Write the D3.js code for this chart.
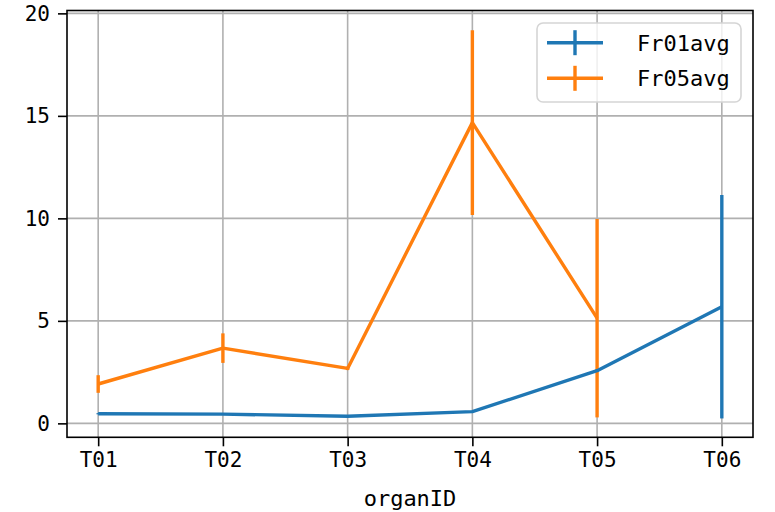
<!DOCTYPE html>
<html>
<head>
<meta charset="utf-8">
<script src="https://cdn.jsdelivr.net/npm/d3@7"></script>
<style>
  html, body { margin: 0; padding: 0; background: #fff; }
  svg { display: block; }
  text { font-family: "DejaVu Sans Mono", "Liberation Mono", monospace; fill: #000; }
</style>
</head>
<body>
<svg id="chart" width="775" height="512"></svg>
<script>
const categories = ["T01", "T02", "T03", "T04", "T05", "T06"];
const fr01avg = [0.47, 0.45, 0.35, 0.57, 2.57, 5.69];
const fr01err = [0.03, 0.03, 0.03, 0.04, 0.05, 5.45];
const fr05avg = [1.92, 3.67, 2.68, 14.67, 5.13, null];
const fr05err = [0.43, 0.72, 0.08, 4.51, 4.84, null];
const yTicks = [0, 5, 10, 15, 20];
const seriesNames = ["Fr01avg", "Fr05avg"];
const colors = ["#1f77b4", "#ff7f0e"];
const xLabel = "organID";

const svg = d3.select("#chart");
const L = 67, R = 753, T = 10.5, B = 437.3;

const x = d3.scaleLinear().domain([-0.25, categories.length - 1 + 0.25]).range([L, R]);
const y = d3.scaleLinear().domain([-0.68, 20.14]).range([B, T]);

// grid
const grid = svg.append("g");
grid.selectAll("line.gx").data(categories).enter().append("line")
  .attr("x1", (d, i) => x(i)).attr("x2", (d, i) => x(i))
  .attr("y1", T).attr("y2", B)
  .attr("stroke", "#b0b0b0").attr("stroke-width", 1.6);
grid.selectAll("line.gy").data(yTicks).enter().append("line")
  .attr("x1", L).attr("x2", R)
  .attr("y1", d => y(d)).attr("y2", d => y(d))
  .attr("stroke", "#b0b0b0").attr("stroke-width", 1.6);

// series
const series = [
  { name: seriesNames[0], vals: fr01avg, errs: fr01err, color: colors[0] },
  { name: seriesNames[1], vals: fr05avg, errs: fr05err, color: colors[1] }
];
const line = d3.line()
  .defined(d => d.v != null)
  .x(d => x(d.i)).y(d => y(d.v));

const plotOrder = [series[1], series[0]];
plotOrder.forEach(s => {
  const pts = s.vals.map((v, i) => ({ i, v, e: s.errs[i] }));
  const g = svg.append("g");
  g.append("path").datum(pts)
    .attr("d", line)
    .attr("fill", "none").attr("stroke", s.color).attr("stroke-width", 3.4)
    .attr("stroke-linejoin", "round");
  g.selectAll("line.err").data(pts.filter(p => p.v != null)).enter().append("line")
    .attr("x1", d => x(d.i)).attr("x2", d => x(d.i))
    .attr("y1", d => y(d.v - d.e)).attr("y2", d => y(d.v + d.e))
    .attr("stroke", s.color).attr("stroke-width", 3.4);
});

// spines
svg.append("rect").attr("x", L).attr("y", T).attr("width", R - L).attr("height", B - T)
  .attr("fill", "none").attr("stroke", "#000").attr("stroke-width", 1.6);

// axes
const xAxis = d3.axisBottom(x).tickValues(d3.range(categories.length))
  .tickFormat(i => categories[i]).tickSize(9).tickPadding(6);
const gx = svg.append("g").attr("transform", `translate(0,${B})`).call(xAxis);
gx.select(".domain").remove();
gx.selectAll(".tick line").attr("stroke", "#000").attr("stroke-width", 1.6);
gx.selectAll(".tick text").attr("font-size", 21).attr("font-family", "DejaVu Sans Mono");

const yAxis = d3.axisLeft(y).tickValues(yTicks).tickSize(9).tickPadding(8);
const gy = svg.append("g").attr("transform", `translate(${L},0)`).call(yAxis);
gy.select(".domain").remove();
gy.selectAll(".tick line").attr("stroke", "#000").attr("stroke-width", 1.6);
gy.selectAll(".tick text").attr("font-size", 21).attr("font-family", "DejaVu Sans Mono");

svg.append("text").attr("x", (L + R) / 2).attr("y", 506)
  .attr("text-anchor", "middle").attr("font-size", 22).text(xLabel);

// legend
const lg = svg.append("g");
lg.append("rect").attr("x", 537).attr("y", 23).attr("width", 204).attr("height", 79)
  .attr("rx", 6).attr("fill", "#fff").attr("fill-opacity", 0.8)
  .attr("stroke", "#d5d5d5").attr("stroke-width", 1.6);
series.forEach((s, k) => {
  const cy = 42.7 + k * 35.6;
  lg.append("line").attr("x1", 547).attr("x2", 603).attr("y1", cy).attr("y2", cy)
    .attr("stroke", s.color).attr("stroke-width", 3.4);
  lg.append("line").attr("x1", 575).attr("x2", 575).attr("y1", cy - 12.5).attr("y2", cy + 12.5)
    .attr("stroke", s.color).attr("stroke-width", 3.4);
  lg.append("text").attr("x", 637).attr("y", cy + 8).attr("font-size", 22).text(s.name);
});
</script>
</body>
</html>
